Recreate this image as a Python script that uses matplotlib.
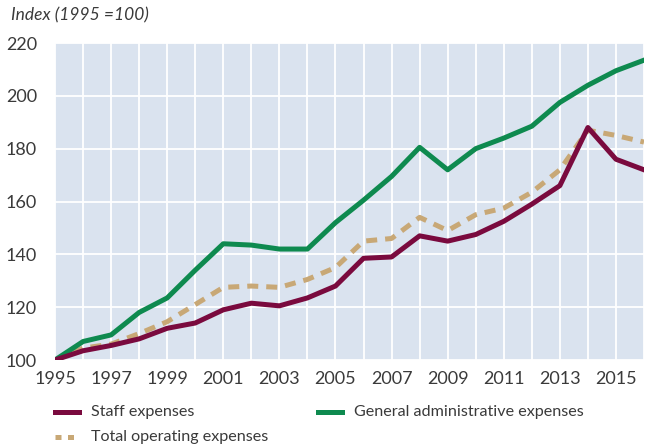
import numpy as np
import matplotlib.pyplot as plt
from matplotlib.lines import Line2D

years = list(range(1995, 2017))
staff = [100, 103.5, 105.5, 108, 112, 114, 119, 121.5, 120.5, 123.5, 128,
         138.5, 139, 147, 145, 147.5, 152.5, 159, 166, 188, 176, 172]
general_admin = [100, 107, 109.5, 118, 123.5, 134, 144, 143.5, 142, 142, 152,
                 160.5, 169.5, 180.5, 172, 180, 184, 188.5, 197.5, 204, 209.5, 213.5]
total_opex = [100, 104.5, 106, 110, 114.5, 121, 127.5, 128, 127.5, 130.5, 135,
              145, 146, 154, 149, 155, 157.5, 163.5, 172, 187, 185, 182.5]
xtick_years = list(range(1995, 2017, 2))
yticks = [100, 120, 140, 160, 180, 200, 220]

plt.rcParams['font.family'] = ['Lato', 'DejaVu Sans']

c_staff = '#7a0a3e'
c_gen = '#0e8a4f'
c_tot = '#c8a876'
txt = '#3a3a3a'

W, H = 646, 448
fig = plt.figure(figsize=(W/100, H/100), dpi=100)
ax = fig.add_axes([55/W, 88/H, 589/W, 317/H])
ax.set_facecolor('#dae3ef')

ax.plot(years, total_opex, color=c_tot, lw=3.6, ls=(0, (2.2, 1.6)), zorder=3)
ax.plot(years, general_admin, color=c_gen, lw=3.6, zorder=4)
ax.plot(years, staff, color=c_staff, lw=3.6, zorder=5)

ax.set_xlim(1995, 2016)
ax.set_ylim(100, 220)
ax.set_xticks(years)
ax.set_xticklabels([str(y) if y in xtick_years else '' for y in years])
ax.set_yticks(yticks)
ax.grid(True, color='white', lw=1.3)
ax.set_axisbelow(True)
ax.tick_params(length=0, labelsize=13, colors=txt, pad=8)
ax.tick_params(axis='y', pad=13)
for s in ax.spines.values():
    s.set_visible(False)

fig.text(11/W, 1 - 15/H, 'Index (1995 =100)', style='italic', fontsize=12.5,
         color=txt, va='center', ha='left')

# legend drawn by hand, two columns
legend_items = [
    ('Staff expenses', c_staff, '-', 55, 412),
    ('General administrative expenses', c_gen, '-', 318, 412),
    ('Total operating expenses', c_tot, (0, (1.2, 1.3)), 55, 437),
]
for label, col, ls, x0, y0 in legend_items:
    fig.add_artist(Line2D([x0/W, (x0 + 24)/W], [1 - y0/H, 1 - y0/H], color=col,
                          lw=3.6, ls=ls, transform=fig.transFigure))
    fig.text((x0 + 36)/W, 1 - y0/H, label, fontsize=11.6, color=txt,
             va='center', ha='left')

fig.savefig('out.png', dpi=100)
